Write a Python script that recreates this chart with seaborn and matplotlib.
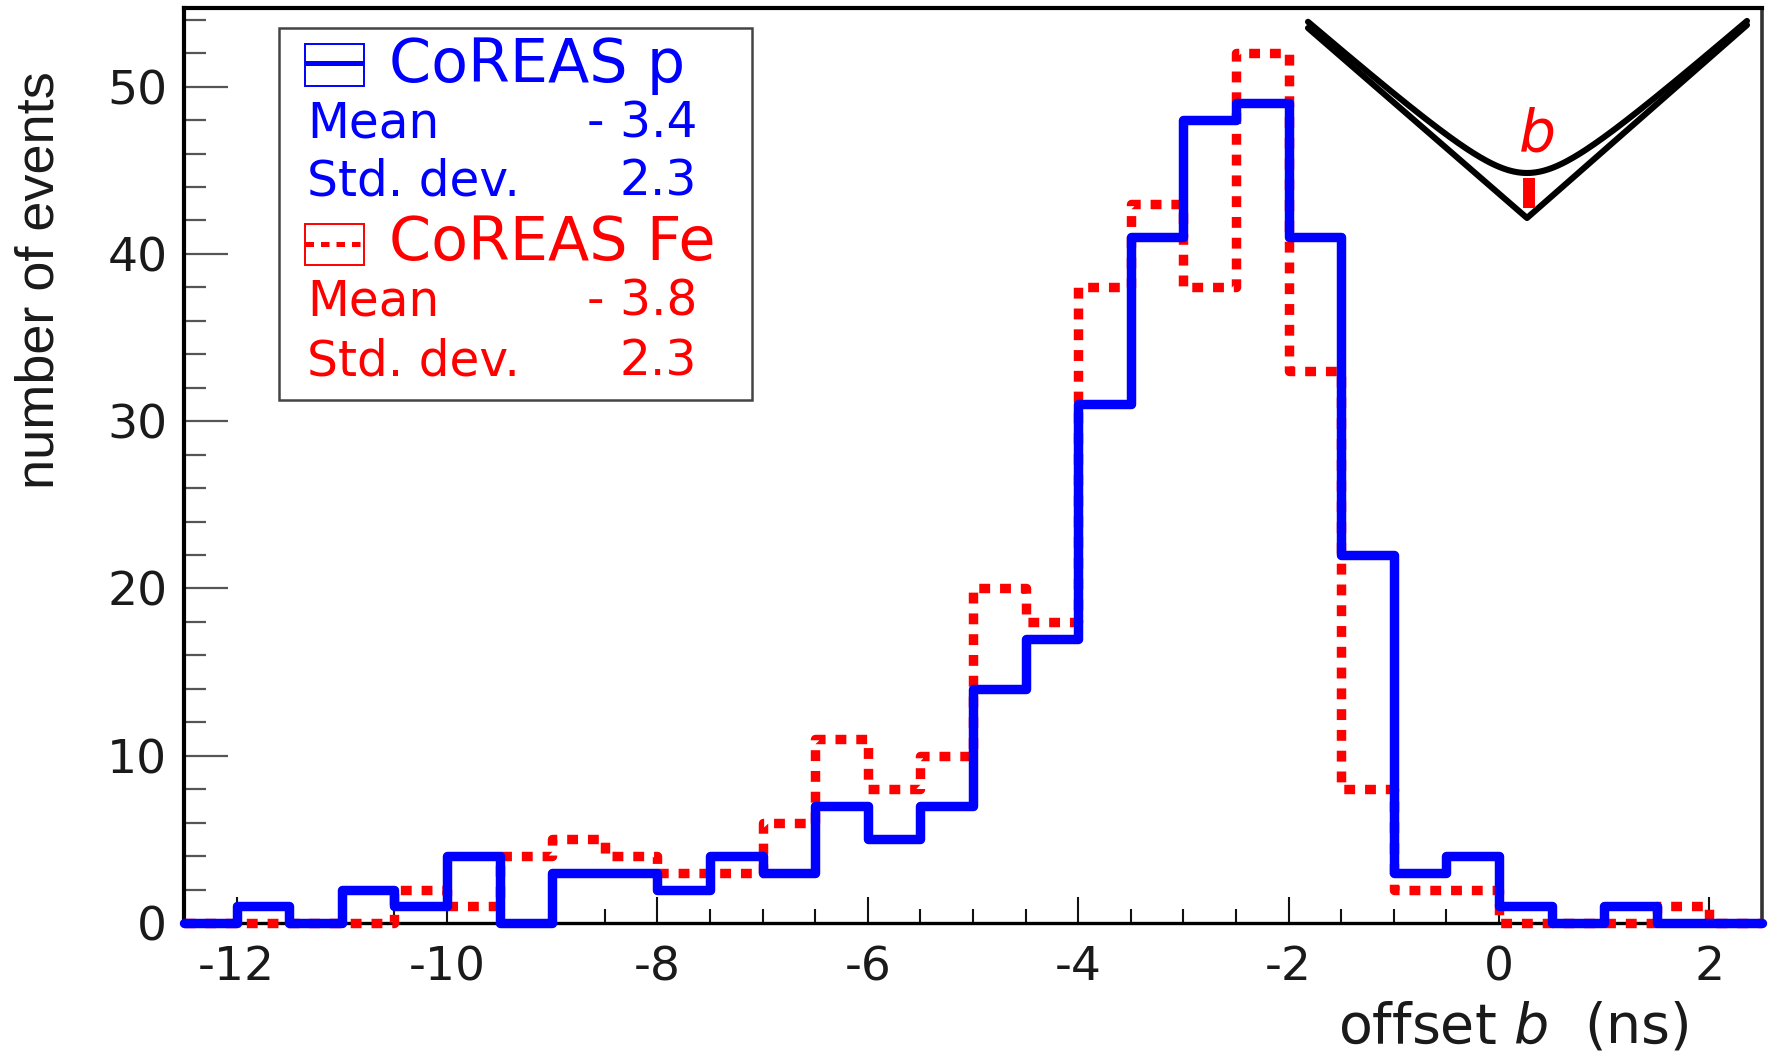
import numpy as np
import pandas as pd
import matplotlib
matplotlib.use("Agg")
import matplotlib.pyplot as plt
import seaborn as sns
from matplotlib import font_manager
from matplotlib.patches import Rectangle
from matplotlib.ticker import MultipleLocator

# ---------------- data ----------------
bin_edges = [-12.5, -12.0, -11.5, -11.0, -10.5, -10.0, -9.5, -9.0, -8.5, -8.0,
             -7.5, -7.0, -6.5, -6.0, -5.5, -5.0, -4.5, -4.0, -3.5, -3.0,
             -2.5, -2.0, -1.5, -1.0, -0.5, 0.0, 0.5, 1.0, 1.5, 2.0, 2.5]
counts_p = [0, 1, 0, 2, 1, 4, 0, 3, 3, 2, 4, 3, 7, 5, 7, 14, 17, 31, 41, 48,
            49, 41, 22, 3, 4, 1, 0, 1, 0, 0]
counts_fe = [0, 0, 0, 0, 2, 1, 4, 5, 4, 3, 3, 6, 11, 8, 10, 20, 18, 38, 43, 38,
             52, 33, 8, 2, 2, 0, 0, 0, 1, 0]
x_ticks = [-12, -10, -8, -6, -4, -2, 0, 2]
y_ticks = [0, 10, 20, 30, 40, 50]
label_p = "CoREAS p"
label_fe = "CoREAS Fe"
stat_names = ["Mean", "Std. dev."]
stats_p = ["- 3.4", "2.3"]
stats_fe = ["- 3.8", "2.3"]
x_title = "offset $b$  (ns)"
y_title = "number of events"

edges = np.array(bin_edges)
centers = (edges[:-1] + edges[1:]) / 2
df = pd.DataFrame({"offset": centers, "p": counts_p, "fe": counts_fe})

# ---------------- style ----------------
sns.set_style("white")
plt.rcParams["font.family"] = ["DejaVu Sans"]
plt.rcParams["axes.unicode_minus"] = False
plt.rcParams["mathtext.fontset"] = "dejavusans"

W, H = 1769, 1056
fig = plt.figure(figsize=(W / 100, H / 100), dpi=100)
fig.patch.set_facecolor("white")

L, R, T, B = 184, 1762, 8, 923
ax = fig.add_axes([L / W, (H - B) / H, (R - L) / W, (B - T) / H])
ax.set_facecolor("white")

BLUE = "#0000ff"
RED = "#ff0000"

sns.histplot(data=df, x="offset", weights="fe", bins=list(bin_edges), element="step",
             fill=False, color=RED, linewidth=6.8, linestyle=(0, (1.15, 1.05)),
             clip_on=False, zorder=3, ax=ax)
sns.histplot(data=df, x="offset", weights="p", bins=list(bin_edges), element="step",
             fill=False, color=BLUE, linewidth=6.8, clip_on=False, zorder=4, ax=ax)

ax.set_xlim(-12.5, 2.5)
ax.set_ylim(0, 54.7)
ax.set_xticks(x_ticks)
ax.set_xticklabels([str(t) for t in x_ticks])
ax.set_yticks(y_ticks)
ax.set_yticklabels([str(t) for t in y_ticks])
ax.xaxis.set_minor_locator(MultipleLocator(0.5))
ax.yaxis.set_minor_locator(MultipleLocator(2))
ax.set_xlabel("")
ax.set_ylabel("")

ax.tick_params(axis="y", which="major", direction="in", length=32, width=1.6,
               color="#555555", labelsize=34, labelcolor="#1a1a1a", pad=12,
               left=True, right=False)
ax.tick_params(axis="y", which="minor", direction="in", length=16, width=1.6,
               color="#555555", left=True, right=False)
ax.tick_params(axis="x", which="major", direction="in", length=19, width=1.5,
               color="#111111", labelsize=34, labelcolor="#1a1a1a", pad=16,
               bottom=True, top=False)
ax.tick_params(axis="x", which="minor", direction="in", length=10, width=1.5,
               color="#111111", bottom=True, top=False)

for side, lw, col in [("left", 3.0, "black"), ("bottom", 2.4, "black"),
                      ("top", 3.0, "black"), ("right", 2.6, "#333333")]:
    ax.spines[side].set_visible(True)
    ax.spines[side].set_linewidth(lw)
    ax.spines[side].set_color(col)

# ---------------- overlay in pixel coordinates ----------------
ov = fig.add_axes([0, 0, 1, 1], zorder=10)
ov.set_xlim(0, W)
ov.set_ylim(H, 0)
ov.axis("off")

# axis titles
ov.text(1689, 1027, x_title, ha="right", va="center", fontsize=40, color="#1a1a1a")


def has_font(name):
    try:
        font_manager.findfont(font_manager.FontProperties(family=name),
                              fallback_to_default=False)
        return True
    except Exception:
        return False


if has_font("Liberation Sans Narrow"):
    yfam, ysize = ["Liberation Sans Narrow", "DejaVu Sans"], 46
else:
    yfam, ysize = ["Liberation Sans", "DejaVu Sans"], 39
ov.text(40, 280, y_title, rotation=90, ha="center", va="center",
        fontsize=ysize, family=yfam, color="#1a1a1a")

# legend box
ov.add_patch(Rectangle((279, 28), 473, 372, facecolor="white",
                       edgecolor="#444444", linewidth=1.8, zorder=1))
# p symbol
ov.add_patch(Rectangle((305, 44), 59, 42, facecolor="none", edgecolor=BLUE,
                       linewidth=1.4, zorder=2))
ov.plot([305, 364], [63, 63], color=BLUE, linewidth=3.6, solid_capstyle="butt", zorder=2)
# Fe symbol
ov.add_patch(Rectangle((305, 224), 59, 41, facecolor="none", edgecolor=RED,
                       linewidth=1.4, zorder=2))
ov.plot([305, 364], [244, 244], color=RED, linewidth=3.6,
        linestyle=(0, (1.7, 1.4)), zorder=2)

ov.text(389, 82, label_p, ha="left", va="baseline", fontsize=43.5, color=BLUE)
ov.text(307, 138, stat_names[0], ha="left", va="baseline", fontsize=35, color=BLUE)
ov.text(697, 138, stats_p[0], ha="right", va="baseline", fontsize=35, color=BLUE)
ov.text(307, 195, stat_names[1], ha="left", va="baseline", fontsize=35, color=BLUE)
ov.text(697, 195, stats_p[1], ha="right", va="baseline", fontsize=35, color=BLUE)

ov.text(389, 260, label_fe, ha="left", va="baseline", fontsize=43.5, color=RED)
ov.text(307, 315, stat_names[0], ha="left", va="baseline", fontsize=35, color=RED)
ov.text(697, 315, stats_fe[0], ha="right", va="baseline", fontsize=35, color=RED)
ov.text(307, 375, stat_names[1], ha="left", va="baseline", fontsize=35, color=RED)
ov.text(697, 375, stats_fe[1], ha="right", va="baseline", fontsize=35, color=RED)

# schematic of the wavefront with offset b (top right)
vx, vy = 1527, 218
ov.plot([1308, vx, 1747], [28, vy, 25], color="black", linewidth=4.4,
        solid_joinstyle="round", solid_capstyle="round", zorder=3)
dx = np.linspace(-219, 220, 200)
k = 0.872
ov.plot(vx + dx, vy - np.sqrt((k * dx) ** 2 + 45 ** 2), color="black",
        linewidth=4.4, solid_capstyle="round", zorder=3)
ov.plot([1529, 1529], [178, 208], color=RED, linewidth=8.6,
        solid_capstyle="butt", zorder=4)
ov.text(1537, 135, "b", ha="center", va="center", fontsize=42, style="italic",
        color=RED)

fig.savefig("out.png", dpi=100)
